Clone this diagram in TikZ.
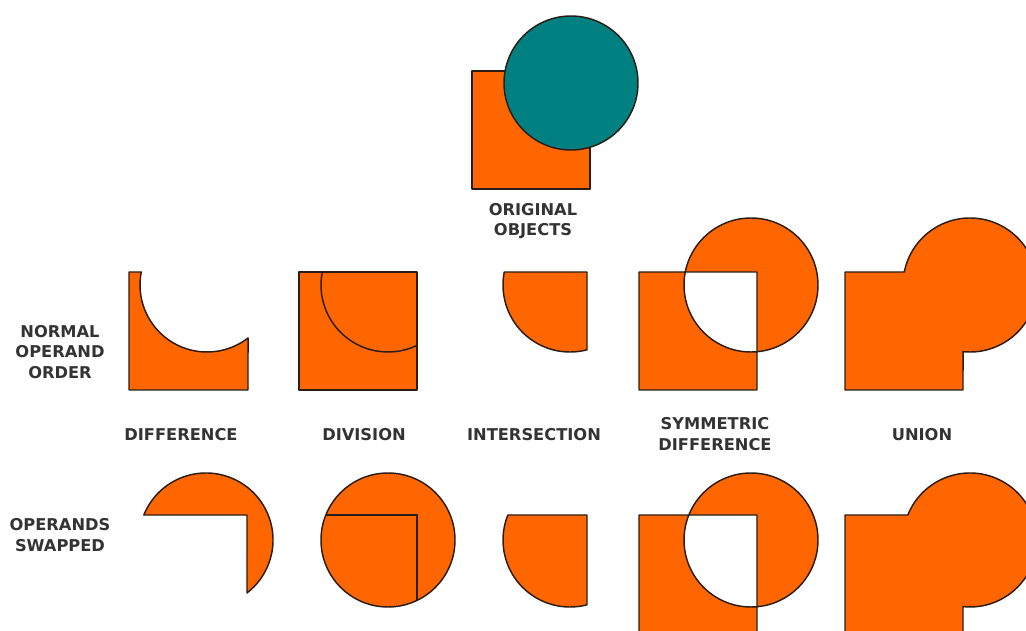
\documentclass[tikz,border=0pt]{standalone}
\usepackage{fontspec}
\setmainfont{DejaVu Sans}
\usetikzlibrary{positioning}
\definecolor{boolorange}{HTML}{FF6600}
\definecolor{boolteal}{HTML}{008080}
\definecolor{boolline}{HTML}{2B1D14}
\definecolor{boolgray}{HTML}{333333}

\tikzset{
  orangeobj/.style={fill=boolorange, draw=boolline, line width=1.1pt, line join=round},
  tealobj/.style={fill=boolteal, draw=boolline, line width=1.1pt},
  oplabel/.style={font=\fontsize{12.2}{15.5}\selectfont\bfseries, text=boolgray,
    align=center, inner sep=0pt}
}

\begin{document}
\begin{tikzpicture}[x=0.75pt, y=-0.75pt]
  \useasboundingbox (0,0) rectangle (1026,631);
  \clip (0,0) rectangle (1026,631);

  % original objects
  \draw[orangeobj] (472,71) rectangle (590,189);
  \draw[tealobj] (571,83) circle[radius=67];
  \node[oplabel] (orig) at (533,221) {ORIGINAL\\OBJECTS};

  % normal operand order
  \draw[orangeobj] (129,272) -- (141.3,272) arc[start angle=191.19, end angle=52.27, radius=67]
    -- (248,390) -- (129,390) -- cycle;
  \draw[orangeobj] (299,272) rectangle (417,390);
  \draw[boolline, line width=1.1pt] (322.3,272) arc[start angle=191.19, end angle=64.36, radius=67];
  \draw[orangeobj] (504.3,272) -- (587,272) -- (587,349.8)
    arc[start angle=75.3, end angle=191.19, radius=67] -- cycle;
  \draw[orangeobj, even odd rule] (639,272) rectangle (757,390) (751,285) circle[radius=67];
  \draw[orangeobj] (845,272) -- (904.3,272) arc[start angle=191.19, end angle=456.0, radius=67]
    -- (963,390) -- (845,390) -- cycle;

  % operands swapped
  \draw[orangeobj] (143.84,515) arc[start angle=201.91, end angle=412.27, radius=67]
    -- (247,515) -- cycle;
  \draw[orangeobj] (388,540) circle[radius=67];
  \draw[boolline, line width=1.1pt] (325.84,515) -- (417,515) -- (417,600.4);
  \draw[orangeobj] (507.84,515) -- (587,515) -- (587,604.8)
    arc[start angle=75.3, end angle=201.91, radius=67] -- cycle;
  \draw[orangeobj, even odd rule] (639,515) rectangle (757,633) (751,540) circle[radius=67];
  \draw[orangeobj] (845,515) -- (907.84,515) arc[start angle=201.91, end angle=456.0, radius=67]
    -- (963,633) -- (845,633) -- cycle;

  % labels
  \node[oplabel] (normal) at (60,352) {NORMAL\\OPERAND\\ORDER};
  \node[oplabel] (swapped) at (60,535) {OPERANDS\\SWAPPED};
  \node[oplabel] (ldiff) at (181,435) {DIFFERENCE};
  \node[oplabel] (ldiv) at (364,435) {DIVISION};
  \node[oplabel] (linter) at (534,435) {INTERSECTION};
  \node[oplabel] (lsym) at (715,434) {SYMMETRIC\\DIFFERENCE};
  \node[oplabel] (lunion) at (922,435) {UNION};
\end{tikzpicture}
\end{document}
